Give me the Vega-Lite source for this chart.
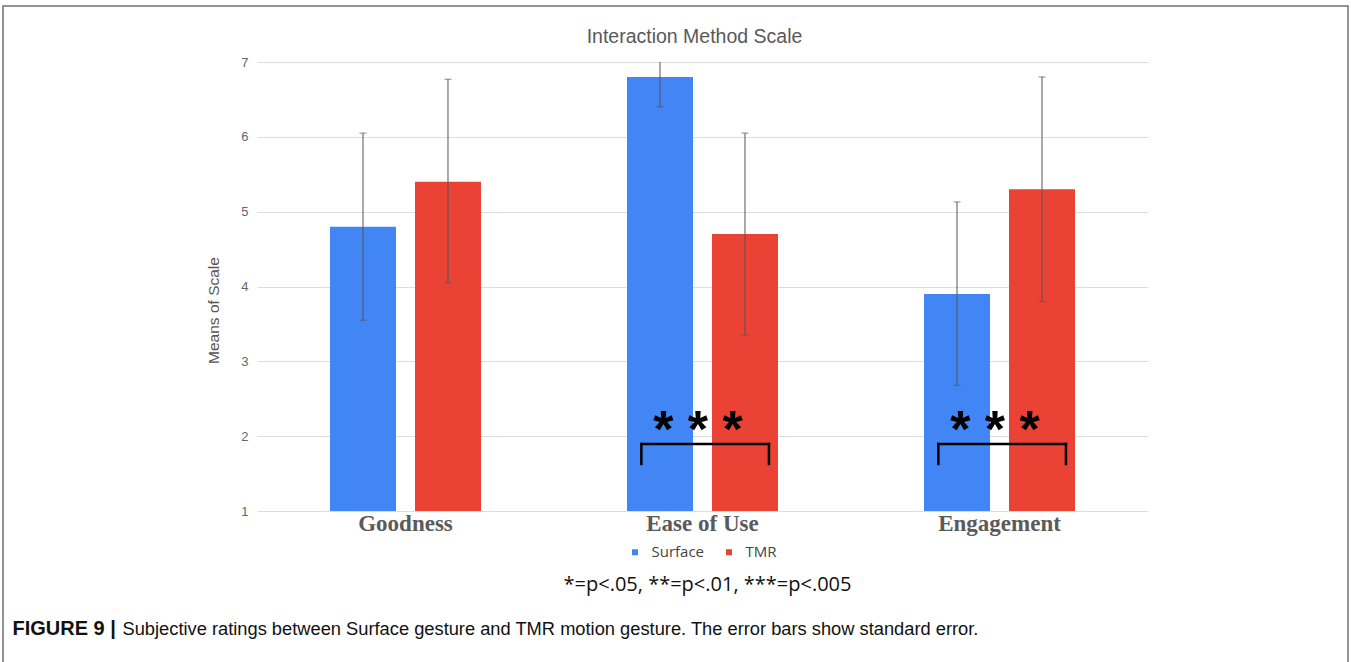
{
  "$schema": "https://vega.github.io/schema/vega-lite/v6.json",
  "width": 1345,
  "height": 657,
  "autosize": {"type": "none"},
  "padding": {"left": 3, "top": 6, "right": 3, "bottom": -1},
  "background": "white",
  "config": {
    "view": {"stroke": "#707070", "strokeWidth": 1.5},
    "font": "Liberation Sans"
  },
  "title": {
    "text": "Interaction Method Scale",
    "anchor": "middle",
    "frame": "group",
    "offset": -56,
    "baseline": "alphabetic",
    "dx": 19,
    "font": "Liberation Sans",
    "fontSize": 19.5,
    "fontWeight": "normal",
    "color": "#595959"
  },
  "datasets": {
    "bars": [
      {"cat": "Goodness", "group": "Surface", "mean": 4.8, "lo": 3.55, "hi": 6.05},
      {"cat": "Goodness", "group": "TMR", "mean": 5.4, "lo": 4.05, "hi": 6.77},
      {"cat": "Ease of Use", "group": "Surface", "mean": 6.8, "lo": 6.4, "hi": 7.0},
      {"cat": "Ease of Use", "group": "TMR", "mean": 4.7, "lo": 3.35, "hi": 6.05},
      {"cat": "Engagement", "group": "Surface", "mean": 3.9, "lo": 2.68, "hi": 5.13},
      {"cat": "Engagement", "group": "TMR", "mean": 5.3, "lo": 3.8, "hi": 6.8}
    ],
    "sig": [
      {"cat": "Ease of Use", "top": 1.895, "bottom": 1.628, "star": 1.86, "label": "* * *"},
      {"cat": "Engagement", "top": 1.895, "bottom": 1.628, "star": 1.86, "label": "* * *"}
    ]
  },
  "resolve": {"axis": {"x": "independent", "y": "independent"}},
  "layer": [
    {
      "data": {"name": "bars"},
      "mark": {"type": "bar"},
      "encoding": {
        "x": {
          "field": "cat", "type": "nominal",
          "sort": ["Goodness", "Ease of Use", "Engagement"],
          "scale": {"domain": ["Goodness", "Ease of Use", "Engagement"], "range": [254, 1145], "paddingInner": 0.4916, "paddingOuter": 0.2458},
          "axis": {
            "orient": "bottom", "offset": -152, "domain": false, "ticks": false, "tickSize": 0, "grid": false,
            "labelAngle": 0, "labelFont": "Liberation Serif", "labelFontWeight": "bold", "labelFontSize": 23,
            "labelColor": "#5a5a5a", "labelPadding": 1,
            "title": "*=p<.05, **=p<.01, ***=p<.005",
            "titleFont": "Open Sans", "titleFontSize": 20, "titleFontWeight": "normal", "titleColor": "#111111",
            "titlePadding": 39, "titleX": 704
          }
        },
        "xOffset": {
          "field": "group", "type": "nominal",
          "scale": {"domain": ["Surface", "TMR"], "paddingInner": 0.2235, "paddingOuter": 0}
        },
        "y": {
          "field": "mean", "type": "quantitative",
          "scale": {"domain": [1, 7], "range": [505, 56], "nice": false, "zero": false},
          "axis": {
            "orient": "left", "offset": -254, "domain": false, "ticks": false, "tickSize": 0, "labelPadding": 9,
            "values": [1, 2, 3, 4, 5, 6, 7],
            "labelFont": "Liberation Sans", "labelFontSize": 13, "labelColor": "#666666",
            "grid": true, "gridColor": "#dddddd", "gridWidth": 1,
            "title": "Means of Scale", "titleFont": "Liberation Sans", "titleFontSize": 15.5,
            "titleFontWeight": "normal", "titleColor": "#555555", "titlePadding": 19, "titleY": 304
          }
        },
        "y2": {"datum": 1},
        "color": {
          "field": "group", "type": "nominal",
          "scale": {"domain": ["Surface", "TMR"], "range": ["#4285F4", "#EA4335"]},
          "legend": {
            "orient": "none", "legendX": 624.5, "legendY": 538.5, "direction": "horizontal",
            "title": null, "symbolType": "square", "symbolSize": 36, "symbolStrokeWidth": 0,
            "labelFont": "Open Sans", "labelFontSize": 15, "labelColor": "#444444",
            "labelOffset": 9, "columnPadding": 17, "padding": 0
          }
        }
      }
    },
    {
      "data": {"name": "bars"},
      "mark": {"type": "rule", "color": "#555555", "strokeWidth": 1},
      "encoding": {
        "x": {
          "field": "cat", "type": "nominal",
          "axis": {
            "orient": "bottom", "offset": -152, "labels": false, "ticks": false, "domain": false, "grid": false,
            "title": "FIGURE 9 |", "titleFont": "Liberation Sans", "titleFontWeight": "bold", "titleFontSize": 20,
            "titleColor": "#111111", "titleX": 9, "titleY": 123, "titleAlign": "left", "titleAnchor": "start",
            "titleBaseline": "alphabetic"
          }
        },
        "xOffset": {"field": "group", "type": "nominal"},
        "y": {"field": "lo", "type": "quantitative", "axis": null},
        "y2": {"field": "hi"}
      }
    },
    {
      "data": {"name": "bars"},
      "mark": {"type": "tick", "color": "#555555", "thickness": 1, "size": 7},
      "encoding": {
        "x": {
          "field": "cat", "type": "nominal",
          "axis": {
            "orient": "bottom", "offset": -152, "labels": false, "ticks": false, "domain": false, "grid": false,
            "title": "Subjective ratings between Surface gesture and TMR motion gesture. The error bars show standard error.",
            "titleFont": "Liberation Sans", "titleFontWeight": "normal", "titleFontSize": 18.3,
            "titleColor": "#111111", "titleX": 119, "titleY": 123, "titleAlign": "left", "titleAnchor": "start",
            "titleBaseline": "alphabetic"
          }
        },
        "xOffset": {"field": "group", "type": "nominal"},
        "y": {"field": "lo", "type": "quantitative", "axis": null}
      }
    },
    {
      "data": {"name": "bars"},
      "transform": [{"filter": "datum.hi < 7"}],
      "mark": {"type": "tick", "color": "#555555", "thickness": 1, "size": 7},
      "encoding": {
        "x": {"field": "cat", "type": "nominal", "axis": null},
        "xOffset": {"field": "group", "type": "nominal"},
        "y": {"field": "hi", "type": "quantitative", "axis": null}
      }
    },
    {
      "data": {"name": "sig"},
      "mark": {"type": "rule", "color": "#000000", "strokeWidth": 2.5, "strokeCap": "square"},
      "encoding": {
        "x": {"field": "cat", "type": "nominal", "bandPosition": 0.095, "axis": null},
        "x2": {"field": "cat", "bandPosition": 0.94},
        "y": {"field": "top", "type": "quantitative", "axis": null}
      }
    },
    {
      "data": {"name": "sig"},
      "mark": {"type": "rule", "color": "#000000", "strokeWidth": 2.5, "strokeCap": "square"},
      "encoding": {
        "x": {"field": "cat", "type": "nominal", "bandPosition": 0.095, "axis": null},
        "y": {"field": "top", "type": "quantitative", "axis": null},
        "y2": {"field": "bottom"}
      }
    },
    {
      "data": {"name": "sig"},
      "mark": {"type": "rule", "color": "#000000", "strokeWidth": 2.5, "strokeCap": "square"},
      "encoding": {
        "x": {"field": "cat", "type": "nominal", "bandPosition": 0.94, "axis": null},
        "y": {"field": "top", "type": "quantitative", "axis": null},
        "y2": {"field": "bottom"}
      }
    },
    {
      "data": {"name": "sig"},
      "mark": {"type": "text", "font": "Liberation Sans", "fontWeight": "bold", "fontSize": 52, "color": "#000000", "align": "center", "baseline": "alphabetic"},
      "encoding": {
        "x": {"field": "cat", "type": "nominal", "bandPosition": 0.47, "axis": null},
        "y": {"field": "star", "type": "quantitative", "axis": null},
        "text": {"field": "label"}
      }
    }
  ]
}
